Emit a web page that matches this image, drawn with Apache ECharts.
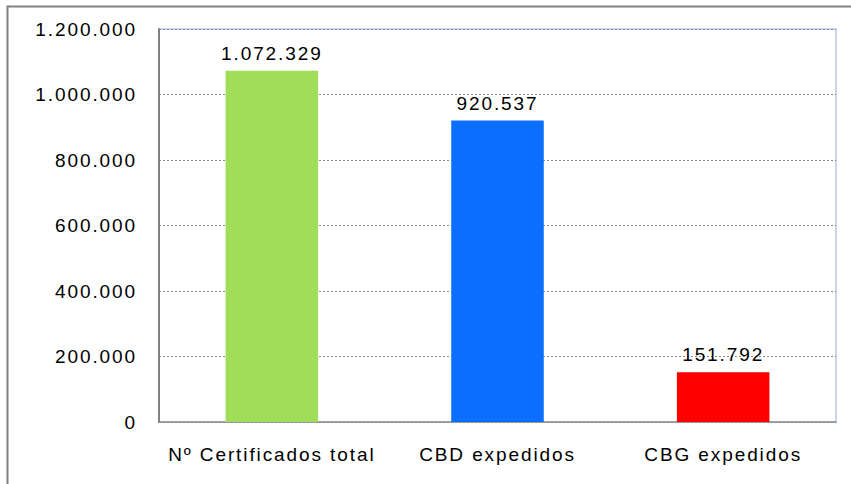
<!DOCTYPE html>
<html>
<head>
<meta charset="utf-8">
<script src="https://cdn.jsdelivr.net/npm/echarts@6/dist/echarts.min.js"></script>
<style>
  html, body { margin: 0; padding: 0; background: #fff; }
  #chart { width: 851px; height: 484px; }
  #chart text { letter-spacing: 1.9px; }
</style>
</head>
<body>
<div id="chart"></div>
<script>
// 数据
const categories = ['Nº Certificados total', 'CBD expedidos', 'CBG expedidos'];
const values = [1072329, 920537, 151792];
const barColors = ['#A0DE5A', '#0A6EFF', '#FF0000'];

// 千位分隔（西班牙格式）
function fmt(v) {
    return String(v).replace(/\B(?=(\d{3})+(?!\d))/g, '.');
}

const chart = echarts.init(document.getElementById('chart'), null, { renderer: 'svg' });

const option = {
    animation: false,
    textStyle: { fontFamily: 'Liberation Sans, Arial, sans-serif' },
    graphic: [
        {
            type: 'rect',
            shape: { x: 7.5, y: 6.5, width: 900, height: 500 },
            style: { fill: 'none', stroke: '#808080', lineWidth: 2 },
            z: -1
        }
    ],
    grid: {
        left: 159,
        right: 15,
        top: 29,
        bottom: 62,
        show: true,
        borderColor: '#B4C8EC',
        borderWidth: 1.5
    },
    xAxis: {
        type: 'category',
        data: categories,
        axisLine: { lineStyle: { color: '#909090', width: 1.5 } },
        axisTick: { show: false },
        axisLabel: { color: '#000', fontSize: 19, margin: 23 }
    },
    yAxis: {
        type: 'value',
        min: 0,
        max: 1200000,
        interval: 200000,
        axisLine: { show: true, lineStyle: { color: '#808080', width: 2 } },
        axisTick: { show: false },
        axisLabel: { color: '#000', fontSize: 19, margin: 22, formatter: fmt },
        splitLine: { lineStyle: { color: '#888', type: [2, 2], width: 1 } }
    },
    series: [
        {
            type: 'bar',
            barWidth: '41%',
            data: values.map((v, i) => ({ value: v, itemStyle: { color: barColors[i] } })),
            label: {
                show: true,
                position: 'top',
                distance: 8,
                color: '#000',
                fontSize: 19,
                formatter: p => fmt(p.value)
            }
        }
    ]
};

chart.setOption(option);
</script>
</body>
</html>
